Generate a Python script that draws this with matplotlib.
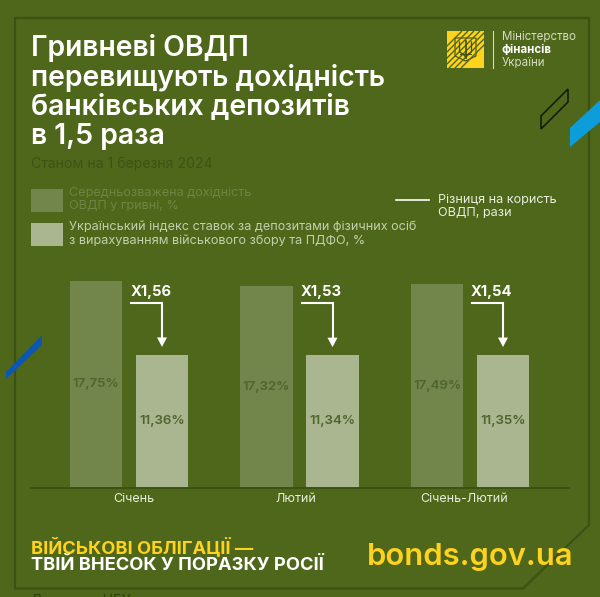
import numpy as np
import matplotlib
matplotlib.use("Agg")
import matplotlib.pyplot as plt
from matplotlib.patches import Polygon, Rectangle
from matplotlib.transforms import ScaledTranslation

categories = ["Січень", "Лютий", "Січень-Лютий"]
ovdp_yield = [17.75, 17.32, 17.49]
deposit_index = [11.36, 11.34, 11.35]
ratios = ["X1,56", "X1,53", "X1,54"]
ovdp_labels = ["17,75%", "17,32%", "17,49%"]
deposit_labels = ["11,36%", "11,34%", "11,35%"]

BG = "#4E671A"
FRAME = "#3C5212"
BAR1 = "#72854A"
BAR2 = "#A9B68F"
YEL = "#FFD21E"
FONT = "Inter"
plt.rcParams["font.family"] = [FONT, "DejaVu Sans"]

W, H = 600, 597
fig = plt.figure(figsize=(W / 100, H / 100), dpi=100, facecolor=BG)

# page layer in pixel coordinates
bg = fig.add_axes([0, 0, 1, 1])
bg.set_xlim(0, W)
bg.set_ylim(H, 0)
bg.axis("off")

bg.add_patch(Polygon([(15, 18), (589, 18), (589, 525), (523, 588.5), (15, 588.5)],
                     closed=True, fill=False, ec=FRAME, lw=1.6))
# decorative stripes
bg.add_patch(Polygon([(570, 128), (600, 100), (600, 122), (570, 147)], fc="#0D9DDB", ec="none"))
bg.add_patch(Polygon([(6, 372), (42, 335), (42, 345), (6, 379)], fc="#0B57B8", ec="none"))
bg.add_patch(Polygon([(541, 116), (568, 89), (568, 102), (541, 129)], fill=False, ec="#10180A", lw=1.1))

# title block
title = ["Гривневі ОВДП", "перевищують дохідність", "банківських депозитів", "в 1,5 раза"]
for t, y in zip(title, [48, 78, 107, 136]):
    bg.text(31, y, t, color="white", fontsize=20.4, fontweight="semibold", va="center", ha="left")
bg.text(31, 164, "Станом на 1 березня 2024", color="#3E5216", fontsize=10.1, va="center")

# legend
LEG = 9.1
bg.add_patch(Rectangle((31, 189), 32, 23, fc=BAR1, ec="none"))
bg.add_patch(Rectangle((31, 223), 32, 23, fc=BAR2, ec="none"))
bg.text(69, 193, "Середньозважена дохідність", color="#6E8344", fontsize=LEG, va="center")
bg.text(69, 206, "ОВДП у гривні, %", color="#6E8344", fontsize=LEG, va="center")
bg.text(69, 227, "Український індекс ставок за депозитами фізичних осіб", color="#C3CFAC", fontsize=LEG, va="center")
bg.text(69, 241, "з вирахуванням військового збору та ПДФО, %", color="#C3CFAC", fontsize=LEG, va="center")
bg.plot([396, 429], [200, 200], color="white", lw=1.2)
bg.text(438, 200, "Різниця на користь", color="#E8EDDC", fontsize=LEG, va="center")
bg.text(438, 213, "ОВДП, рази", color="#E8EDDC", fontsize=LEG, va="center")

# logo
logo = Rectangle((447, 31), 37, 37, fc=YEL, ec="none")
bg.add_patch(logo)
for c in (493, 499, 505, 511, 517, 523, 529):
    ln, = bg.plot([c - 68, c - 31], [68, 31], color=BG, lw=1.0, solid_capstyle="butt")
    ln.set_clip_path(logo)
bg.add_patch(Rectangle((452, 56), 27, 12, fc=YEL, ec="none"))
bg.add_patch(Polygon([(452, 36), (479, 36), (479, 56), (465.5, 64), (452, 56)], fc=YEL, ec="none"))
bg.add_patch(Polygon([(455, 38), (476, 38), (476, 56), (465.5, 61), (455, 56)],
                     fc=YEL, ec="#40500F", lw=0.8))
bg.plot([465.5, 465.5], [41, 58], color="#40500F", lw=1.2)
bg.plot([459.5, 459.5, 463, 465.5, 468, 471.5, 471.5],
        [42, 52, 54, 57, 54, 52, 42], color="#40500F", lw=0.9)
bg.plot([460, 471], [54, 54], color="#40500F", lw=0.7)
bg.plot([493, 493], [31, 68], color="#D5DCC0", lw=0.8)
bg.text(502, 37.5, "Міністерство", color="#D5DCC0", fontsize=8.3, va="center")
bg.text(502, 50, "фінансів", color="white", fontsize=8.3, fontweight="bold", va="center")
bg.text(502, 62.5, "України", color="#D5DCC0", fontsize=8.3, va="center")

# footer
bg.text(31, 547, "ВІЙСЬКОВІ ОБЛІГАЦІЇ —", color=YEL, fontsize=13.2, fontweight="bold", va="center")
bg.text(31, 565, "ТВІЙ ВНЕСОК У ПОРАЗКУ РОСІЇ", color="white", fontsize=13.2, fontweight="bold", va="center")
bg.text(367, 557, "bonds.gov.ua", color=YEL, fontsize=22.3, fontweight="semibold", va="center")
bg.text(31, 594, "Джерело: НБУ", color="#2F400E", fontsize=10, va="top")

# chart
left, right, top, base = 31, 569, 270, 487.5
ax = fig.add_axes([left / W, 1 - base / H, (right - left) / W, (base - top) / H])
ax.patch.set_alpha(0)
px_per_unit = 11.66
ax.set_ylim(0, (base - top) / px_per_unit)
spacing = 170.5
ax.set_xlim((left - 129) / spacing, (right - 129) / spacing)
x = np.arange(len(categories))
w = 52.5 / spacing
off = 33 / spacing
ax.bar(x - off, ovdp_yield, w, color=BAR1)
ax.bar(x + off, deposit_index, w, color=BAR2)
for s in ("top", "left", "right"):
    ax.spines[s].set_visible(False)
ax.spines["bottom"].set_color(FRAME)
ax.spines["bottom"].set_linewidth(1.4)
ax.set_yticks([])
ax.set_xticks(x)
ax.set_xticklabels(categories, color="#E8EDDC", fontsize=9)
ax.tick_params(axis="x", length=0, pad=4)
label_shift = [5, -4, -6]
for lab, dx in zip(ax.get_xticklabels(), label_shift):
    lab.set_transform(lab.get_transform() + ScaledTranslation(dx / 100, 0, fig.dpi_scale_trans))

for i in x:
    ax.text(i - off, ovdp_yield[i] / 2, ovdp_labels[i], ha="center", va="center",
            color="#4F6530", fontsize=9.6, fontweight="semibold")
    ax.text(i + off, deposit_index[i] / 2, deposit_labels[i], ha="center", va="center",
            color="#4F6530", fontsize=9.6, fontweight="semibold")
    level = 15.82
    ax.plot([i + 0.012, i + off, i + off], [level, level, deposit_index[i] + 1.5],
            color="white", lw=1.5, solid_joinstyle="miter")
    ax.annotate("", xy=(i + off, deposit_index[i] + 0.7), xytext=(i + off, deposit_index[i] + 1.6),
                arrowprops=dict(arrowstyle="-|>,head_width=0.36,head_length=0.68", color="white", lw=0,
                                shrinkA=0, shrinkB=0))
    ax.text(i + 0.128, 16.78, ratios[i], ha="center", va="center", color="white",
            fontsize=10.6, fontweight="bold")

fig.savefig("out.png", dpi=100, facecolor=BG)
